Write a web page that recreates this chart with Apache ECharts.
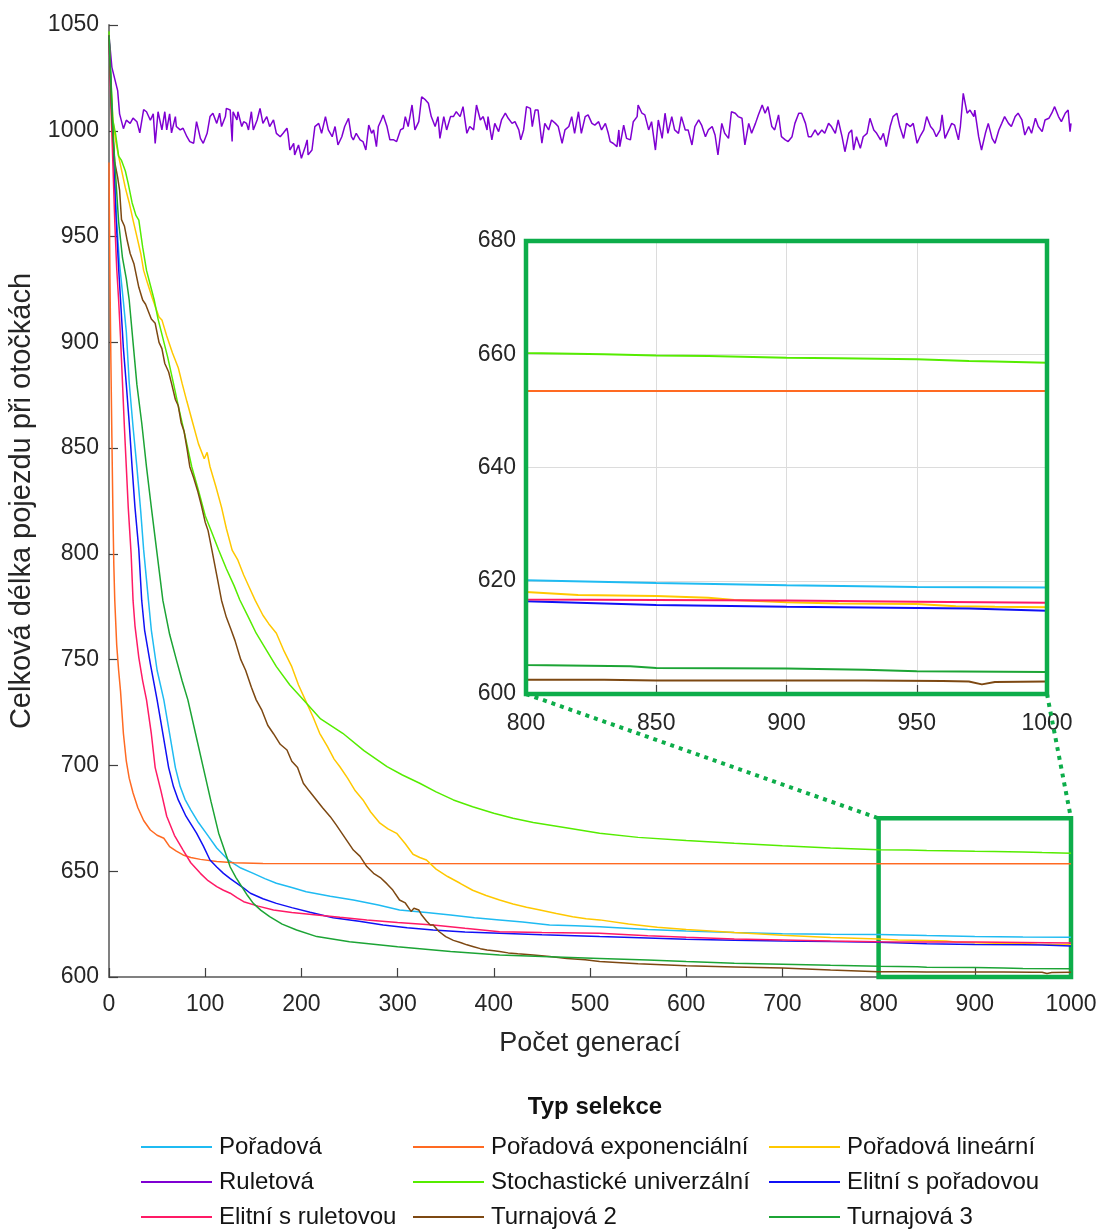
<!DOCTYPE html>
<html>
<head>
<meta charset="utf-8">
<script src="https://cdn.jsdelivr.net/npm/echarts@6/dist/echarts.min.js"></script>
<style>
html,body{margin:0;padding:0;background:#fff;}
#chart{width:1101px;height:1230px;}
</style>
</head>
<body>
<div id="chart"></div>
<script>
// ---------- DATA ----------
const seriesNames = ['Pořadová','Pořadová exponenciální','Pořadová lineární','Ruletová','Stochastické univerzální','Elitní s pořadovou','Elitní s ruletovou','Turnajová 2','Turnajová 3'];
const seriesColors = ['#1FBBF2','#FF6A22','#FFC800','#7F00D2','#55EC00','#1010F5','#FF1A66','#7D4812','#1CA435'];

const xTicks = [0,100,200,300,400,500,600,700,800,900,1000];
const yTicks = [600,650,700,750,800,850,900,950,1000,1050];
const insetXTicks = [800,850,900,950,1000];
const insetYTicks = [600,620,640,660,680];
const zoomBoxX = [800,1000];
const zoomBoxY = [600,675];

const poradovaGen = [0,2,4,6,8,11,15,18,21,25,29,33,36,41,44,50,57,63,69,74,79,85,93,101,112,124,137,150,162,174,190,205,230,254,280,302,330,355,380,406,430,458,485,510,560,600,650,700,750,800,850,900,950,1000];
const poradovaVal = [1045,1025,1000,977,957,937,919,905,881,860,841,820,802,778,764,745,731,715,699,690,684,679,673,668,661,655.3,651.5,649,646.5,644.3,642.3,640.3,638.2,636.4,634,631.7,630.5,629.3,628,627,626,624.6,624.2,623.8,622.5,621.7,621,620.5,620.2,620.1,619.6,619.2,618.9,618.8];

const expGen = [0,1,2,3,4,5,6,8,10,12,15,18,21,25,30,36,43,50,57,63,70,77,85,95,112,130,160,1000];
const expVal = [985,930,890,855,822,795,778,757,745,735,715,702,694,687,680,674,669.5,667,665.6,661.6,659.5,657.7,656.5,655.6,654.6,654,653.6,653.5];

const linGen = [0,2,4,7,10,13,17,21,25,29,33,36,40,45,48,52,55,60,66,72,76,81,87,93,99,102,105,111,117,122,128,134,140,146,152,160,166,174,182,190,197,204,212,219,227,234,240,248,256,264,272,281,290,299,308,316,323,330,340,352,365,378,392,406,420,434,448,465,482,496,510,540,570,600,650,700,750,800,820,850,870,880,900,920,950,965,980,1000];
const linVal = [1045,1022,1005,995,988,981.5,973,966,957.8,950,942,934,928,921,917,912,910.6,903,895,888,880.6,872,862,852,845,848,841.2,832,822,812,801.8,797,790,784,778,771,767,762.5,754,746.7,738,731,723,715.2,709,703,699.4,694,688,683.7,678,673,670,667.9,663,658,656.5,655.3,651,647.5,644.3,641,638.5,636.4,634.5,633,631.7,630,628.5,627.5,627,625,623.5,622.5,621,619.7,618.7,618,617.5,617.3,617,616.6,616.2,616,615.9,615.5,615.4,615.3];

const rulGen = [0,3,9,11,15,18,22,25,29,32,36,39,43,46,48,51,55,58,60,63,65,69,70,74,77,81,84,88,91,95,98,102,105,108,112,115,117,121,122,126,128,129,133,134,138,140,143,145,148,150,154,157,160,164,167,171,174,178,181,185,186,188,192,193,197,200,204,206,207,211,214,218,221,225,228,232,235,238,242,245,249,252,
254,257,261,264,267,270,273,275,278,280,283,285,289,292,296,299,303,306,308,311,315,318,322,325,329,332,335,339,342,344,348,351,355,358,361,365,368,372,375,379,382,386,389,393,394,398,401,405,408,412,415,419,422,426,428,431,434,438,440,443,446,450,453,457,460,464,467,471,474,478,481,484,488,491,495,498,502,505,
509,512,516,519,521,524,528,530,531,535,538,542,545,549,550,554,557,561,564,568,571,575,578,581,585,588,592,595,599,602,606,609,613,616,620,623,627,630,633,637,640,644,647,651,654,658,661,665,668,672,675,679,682,685,689,692,696,699,703,706,710,713,717,720,724,727,730,734,737,741,744,748,751,755,758,762,
765,769,772,774,777,781,784,788,791,795,798,802,805,808,812,815,819,822,826,829,833,836,840,843,847,850,854,857,860,864,866,869,873,876,879,883,885,888,892,895,899,900,904,907,911,914,918,921,925,928,931,935,938,942,945,949,952,956,959,963,966,970,973,977,980,983,987,990,994,997,999,1000];
const rulVal = [1045,1030,1019,1008,1001,1005,1003.5,1006,1004.3,999,1010,1009,1005,1008,994,1009,1000.4,1009,1000.4,1008,999,1006.7,1002,1000.4,1001.2,997.2,994.9,994.1,1004.3,996.4,994.1,998.8,1006.7,1008.3,1003.5,1008.3,1002,1006.7,1010.6,1009.8,994.9,1009,1005.1,1009,1002,1004.3,1003.5,1000.4,1009,1000.4,1005.1,1010.6,1003.5,1006.7,1002,1005.1,998.8,997.2,998.8,1001.2,998.8,990.9,994.1,988.6,993.3,987,992.5,995.7,988.6,990.9,1002,1003.5,998.8,1006.7,1000.4,997.2,1002,993.3,997.2,1002,1005.9,997.2,
995.7,998.8,995.7,994.9,990.9,1002.7,998.8,1000.4,992.5,1002,1005.1,1007.5,1002,995.7,995.7,994.9,1000.4,1001.2,1006.7,1002,1012.2,1000.4,1004.3,1016.1,1014.6,1013,1006.7,1002,1006.7,996.4,1006.7,1000.4,1006.7,1006.7,1009,1006.7,1011.4,998.8,1002,1000.4,1012.2,1005.1,1006.7,1000.4,1006.7,995.7,1003.5,999.6,1005.1,1008.3,1005.9,1003.5,1004.3,1000.4,995.7,1000.4,1011.4,1010.6,1002,1009.8,1009.8,994.1,1003.5,1000.4,1005.1,1003.5,1002,994.1,1000.4,1002,1006.7,998.8,1009,998.8,1006.7,1007.5,1003.5,1002.7,
1004.3,1000.4,1003.5,998.8,994.9,994.1,992.5,1000.4,992.5,1002.7,996.4,995.7,1004.3,1006.7,1012.2,1008.3,1007.5,1000.4,1004.3,990.9,1005.1,996.4,1008.3,998.8,1006.7,1000.4,998.8,1006.7,1000.4,1000.4,993.3,1002,1005.1,1002.7,997.2,1000.4,1002,998,988.6,1003.5,998.8,996.4,1009,1008.3,1006.7,1005.9,993.3,1003.5,998.8,1003.5,1007.5,1012.2,1008.3,1011.4,1002,1000.4,1007.5,997.2,995.7,994.9,997.2,1003.5,1008.3,1008.3,1003.5,997.2,997.2,1000.4,998,1000.4,998.8,1003.5,1002,998.8,1005.1,997.2,
990.1,998.8,1000.4,990.9,997.2,991.7,997.2,998.8,1005.9,1000.4,998.8,995.7,998.8,992.5,1002,1006.7,1008.3,1002,996.4,1003.5,1002,1003.5,994.1,997.2,1000.4,1006.7,1002,1000.4,997.2,1000.4,1007.5,996.4,1000.4,1003.5,1002.7,995.7,1002,1017.7,1008.3,1009.8,1006.7,1009.8,997.2,990.9,998.8,1003.5,996.4,994.1,1000.4,1003.5,1006.7,1003.5,1002,1006.7,1008.3,1005.1,998,1002,998.8,1005.9,1002,999.6,1005.1,1005.9,1008.3,1011.4,1006.7,1004.3,1008.3,1009.8,999.6,1003.5];

const stochGen = [0,2,4,7,10,13,17,20,24,28,31,35,39,43,47,51,56,61,67,72,78,86,93,100,107,114,122,130,136,145,153,163,174,188,202,220,243,265,289,305,323,340,358,378,400,420,441,475,510,550,600,650,700,750,800,830,850,870,900,920,950,970,980,1000];
const stochVal = [1047,1025,1005,998,988,986,981,975,966,960,957.8,945,934,927,920,911,902,893,880.6,870,858,841.2,830,818,810,801.8,793,785,778.2,770,762.5,755,746.7,738,731,722,715.2,707,699.4,695.5,691.6,687.5,683.7,680.5,677.4,675,673,670.5,667.9,666,664.5,663.2,662,661,660.2,660,659.8,659.7,659.4,659.3,659.1,658.8,658.7,658.5];

const elitPorGen = [0,2,4,7,10,12,15,18,21,24,27,31,34,37,43,50,56,62,67,72,80,91,98,105,112,119,126,133,140,147,160,174,190,209,233,260,285,310,337,370,406,450,510,560,600,650,700,750,800,850,900,950,970,1000];
const elitPorVal = [1045,1020,996,962,935,920,897,880,862,841,822,802,778,764,748,731,715,699,690,683.7,676,668,662,655.3,652,649,646.5,644.3,642,639.6,637,634.8,632.8,630.6,628,626.3,624.6,623.3,622.2,621.3,620.7,620,619.1,618.4,617.8,617.4,617,616.8,616.4,615.7,615.4,615.2,615.1,614.7];

const elitRulGen = [0,2,4,6,8,10,12,14,16,18,20,23,25,27,31,35,39,44,48,54,60,68,77,85,95,103,112,119,126,133,140,155,171,190,216,240,268,300,337,370,406,450,510,560,600,650,700,750,800,850,900,950,1000];
const elitRulVal = [1045,1012,985,957,935,920,902,881,860,841,822,800,778,766,751,740,731,715,699,688,676,667,660,654,649,645.5,642.7,641,639.6,637.5,635.6,633.5,631.7,630.5,629.3,628.2,627,625.8,624.6,623,621.4,621,620.7,619.5,618.8,618,617.5,617,616.7,616.6,616.5,616.3,616.1];

const turn2Gen = [0,3,6,9,11,13,16,19,22,26,31,35,38,44,48,52,55,58,62,65,69,72,75,78,81,84,88,92,96,100,103,107,112,117,122,127,131,137,142,148,153,159,165,171,178,185,190,196,202,208,215,222,230,236,242,248,254,261,268,275,282,289,295,302,308,314,317,322,325,330,334,337,343,350,358,366,372,379,386,393,400,406,415,425,441,458,476,495,510,550,600,650,700,750,800,830,850,880,900,930,960,970,975,980,1000];
const turn2Val = [1045,1005,985,978,972,958,955,948,942,937,926,920,918,911,909,900,897,890,886,880.6,873,870,862,858,850,841.2,836,830,823,815,811,801.8,790,778,770,764,759,750,745,737,731,726,719,715,710,707.3,702,699,691.6,688,684,680,675.8,672,668,664,660,657,652.2,649,647,644,641.1,636.4,635,631,632.5,631.7,629.3,626.5,624.6,624.6,621.5,619.1,617.3,616.2,615.2,614.3,613.4,612.8,612.4,612,611.4,611,610.4,609.7,608.8,608.2,607.3,606.3,605.3,604.7,604.2,603.3,602.5,602.5,602.4,602.4,602.4,602.4,602.3,602.2,601.7,602.1,602.2];

const turn3Gen = [0,3,6,10,14,18,21,25,29,34,39,44,50,56,63,70,76,82,90,98,106,114,120,126,132,138,144,150,158,167,180,195,216,250,300,355,406,450,510,560,600,650,700,750,800,840,850,900,930,950,1000];
const turn3Val = [1045,1010,985,957,940,930,920,900,880,862,841,822,800,778,762,750,740,731,715,699,683,668,660,652,647,642.7,638.5,634.8,631.5,628.5,625,622.2,619.1,616.7,614.3,612,610.4,609.7,608.8,608,607.3,606.5,606,605.5,605.1,604.9,604.6,604.5,604.3,604,603.9];

const seriesGens = [poradovaGen, expGen, linGen, rulGen, stochGen, elitPorGen, elitRulGen, turn2Gen, turn3Gen];
const seriesVals = [poradovaVal, expVal, linVal, rulVal, stochVal, elitPorVal, elitRulVal, turn2Val, turn3Val];

// legend columns (index into seriesNames)
const legendColumns = [[0,3,6],[1,4,7],[2,5,8]];
const legendColumnLeft = [141,413,769];

// ---------- BUILD ----------
const FONT = "'Liberation Sans', Arial, sans-serif";
const GREEN = '#0DAD4A';
function pairs(g, v){ return g.map((x,i)=>[x, v[i]]); }
const plain = v => String(v);

const chart = echarts.init(document.getElementById('chart'), null, {renderer:'canvas'});

const series = [];
seriesNames.forEach((name, i) => {
  series.push({
    name, type:'line', xAxisIndex:0, yAxisIndex:0, data: pairs(seriesGens[i], seriesVals[i]),
    showSymbol:false, symbol:'none', animation:false,
    lineStyle:{color:seriesColors[i], width:1.5},
    itemStyle:{color:seriesColors[i]}, z: 3
  });
});
seriesNames.forEach((name, i) => {
  const g = seriesGens[i];
  const data = pairs(g, seriesVals[i]).filter((p, k) => p[0] >= insetXTicks[0] - 20 || (k + 1 < g.length && g[k + 1] >= insetXTicks[0] - 20));
  series.push({
    name, type:'line', xAxisIndex:1, yAxisIndex:1, data,
    showSymbol:false, symbol:'none', animation:false, clip:true,
    lineStyle:{color:seriesColors[i], width:2},
    itemStyle:{color:seriesColors[i]}, z: 6
  });
});
// zoom box in main plot
series.push({
  name:'__box', type:'line', xAxisIndex:0, yAxisIndex:0, data:[], silent:true,
  markArea:{ silent:true, itemStyle:{color:'rgba(0,0,0,0)', borderColor:GREEN, borderWidth:4.5},
    data:[[{coord:[zoomBoxX[0], zoomBoxY[0]]},{coord:[zoomBoxX[1], zoomBoxY[1]]}]] },
  z: 5
});

const legends = legendColumns.map((col, k) => ({
  orient:'vertical', left: legendColumnLeft[k], top: 1135,
  data: col.map(i => seriesNames[i]),
  icon:'rect', itemWidth:71, itemHeight:2, itemGap:11, padding:0,
  selectedMode:false,
  textStyle:{fontFamily:FONT, fontSize:24, color:'#141414', lineHeight:24, padding:[0,0,0,2]}
}));

const option = {
  animation:false,
  backgroundColor:'#ffffff',
  title:{ text:'Typ selekce', left:590, top:1090, textAlign:'center',
    textStyle:{fontFamily:FONT, fontSize:24, fontWeight:'bold', color:'#111'} },
  legend: legends,
  grid:[
    {left:109, right:30, top:25, bottom:253, containLabel:false, outerBoundsMode:'none'},
    {left:526, right:54, top:241, bottom:536, containLabel:false, outerBoundsMode:'none', show:false}
  ],
  xAxis:[
    {type:'value', gridIndex:0, min:xTicks[0], max:xTicks[xTicks.length-1], interval:100,
     name:'Počet generací', nameLocation:'middle', nameGap:53,
     nameTextStyle:{fontFamily:FONT, fontSize:27, color:'#262626'},
     axisLine:{show:true, onZero:false, lineStyle:{color:'#808080', width:2}},
     axisTick:{show:true, inside:true, length:9, lineStyle:{color:'#404040', width:1.2}},
     axisLabel:{fontFamily:FONT, fontSize:23, color:'#262626', margin:16, formatter:plain},
     splitLine:{show:false}},
    {type:'value', gridIndex:1, min:insetXTicks[0], max:insetXTicks[insetXTicks.length-1], interval:50,
     axisLine:{show:false, onZero:false},
     axisTick:{show:true, inside:true, length:9, lineStyle:{color:'#404040', width:1.2}},
     axisLabel:{fontFamily:FONT, fontSize:23, color:'#262626', margin:18, formatter:plain},
     splitLine:{show:true, lineStyle:{color:'#dcdcdc', width:1}}}
  ],
  yAxis:[
    {type:'value', gridIndex:0, min:yTicks[0], max:yTicks[yTicks.length-1], interval:50,
     name:'Celková délka pojezdu při otočkách', nameLocation:'middle', nameGap:72,
     nameTextStyle:{fontFamily:FONT, fontSize:29, color:'#262626'},
     axisLine:{show:true, onZero:false, lineStyle:{color:'#808080', width:2}},
     axisTick:{show:true, inside:true, length:9, lineStyle:{color:'#404040', width:1.2}},
     axisLabel:{fontFamily:FONT, fontSize:23, color:'#262626', margin:10, formatter:plain},
     splitLine:{show:false}},
    {type:'value', gridIndex:1, min:insetYTicks[0], max:insetYTicks[insetYTicks.length-1], interval:20,
     axisLine:{show:false, onZero:false},
     axisTick:{show:false},
     axisLabel:{fontFamily:FONT, fontSize:23, color:'#262626', margin:10, formatter:plain},
     splitLine:{show:true, lineStyle:{color:'#dcdcdc', width:1}}}
  ],
  series
};
chart.setOption(option);

// inset frame and dotted connectors, positioned through the axes
const iTL = chart.convertToPixel({xAxisIndex:1, yAxisIndex:1}, [insetXTicks[0], insetYTicks[insetYTicks.length-1]]);
const iBR = chart.convertToPixel({xAxisIndex:1, yAxisIndex:1}, [insetXTicks[insetXTicks.length-1], insetYTicks[0]]);
const a = chart.convertToPixel({xAxisIndex:1, yAxisIndex:1}, [insetXTicks[0], insetYTicks[0]]);
const b = chart.convertToPixel({xAxisIndex:0, yAxisIndex:0}, [zoomBoxX[0], zoomBoxY[1]]);
const c = chart.convertToPixel({xAxisIndex:1, yAxisIndex:1}, [insetXTicks[insetXTicks.length-1], insetYTicks[0]]);
const d = chart.convertToPixel({xAxisIndex:0, yAxisIndex:0}, [zoomBoxX[1], zoomBoxY[1]]);
const dotted = {stroke:GREEN, lineWidth:4, lineDash:[4,5]};
chart.setOption({ graphic:[
  {type:'rect', z:20, silent:true, shape:{x:iTL[0], y:iTL[1], width:iBR[0]-iTL[0], height:iBR[1]-iTL[1]},
   style:{fill:null, stroke:GREEN, lineWidth:4.5}},
  {type:'line', z:10, silent:true, shape:{x1:a[0], y1:a[1], x2:b[0], y2:b[1]}, style:dotted},
  {type:'line', z:10, silent:true, shape:{x1:c[0], y1:c[1], x2:d[0], y2:d[1]}, style:dotted}
]});
</script>
</body>
</html>
